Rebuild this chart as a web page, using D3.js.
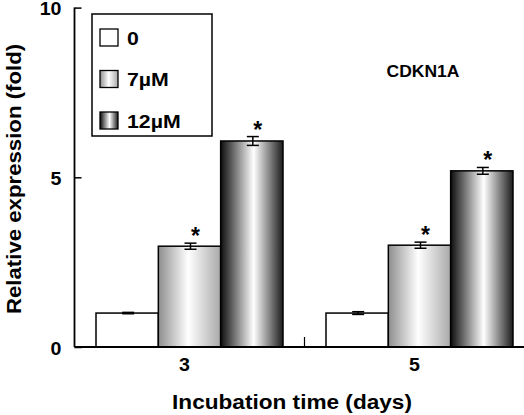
<!DOCTYPE html>
<html><head><meta charset="utf-8">
<script src="https://cdn.jsdelivr.net/npm/d3@7"></script>
<style>
html,body{margin:0;padding:0;background:#fff;}
svg{display:block;}
text{font-family:"Liberation Sans",Arial,sans-serif;font-weight:bold;fill:#000;}
</style></head>
<body>
<script>
// ---- data ----
const categories = ["3", "5"];
const seriesNames = ["0", "7\u00b5M", "12\u00b5M"];
const values0 = [1.0, 1.0];
const values7 = [2.97, 3.0];
const values12 = [6.07, 5.19];
const errors0 = [0.02, 0.04];
const errors7 = [0.09, 0.09];
const errors12 = [0.13, 0.1];
const significant0 = [false, false];
const significant7 = [true, true];
const significant12 = [true, true];
const yTicks = [0, 5, 10];
const chartLabel = "CDKN1A";
const xTitle = "Incubation time (days)";
const yTitle = "Relative expression (fold)";

const W = 524, H = 415;
const svg = d3.select("body").append("svg").attr("width", W).attr("height", H);

// widen text horizontally (reference glyphs are wider than Arial)
function stretch(sel, k) {
  sel.each(function () {
    const len = this.getComputedTextLength();
    d3.select(this).attr("textLength", len * k).attr("lengthAdjust", "spacingAndGlyphs");
  });
}

const defs = svg.append("defs");
function grad(id, stops) {
  const g = defs.append("linearGradient").attr("id", id).attr("x1", "0%").attr("x2", "100%").attr("y1", "0%").attr("y2", "0%");
  stops.forEach(s => g.append("stop").attr("offset", s[0]).attr("stop-color", s[1]));
}
grad("g7", [["0%", "#8e8e8e"], ["48%", "#ffffff"], ["100%", "#a9a9a9"]]);
grad("g12", [["0%", "#0d0d0d"], ["53%", "#ffffff"], ["100%", "#1c1c1c"]]);
const fills = ["#ffffff", "url(#g7)", "url(#g12)"];

const axisX = 74.5, baseY = 347, topY = 7.6;
const y = d3.scaleLinear().domain([0, 10]).range([baseY, topY]);
const x0 = d3.scaleBand().domain(categories).range([axisX, axisX + 460]).paddingInner(0).paddingOuter(0);
const groupPad = 21.5;
const x1 = d3.scaleBand().domain(seriesNames).range([0, x0.bandwidth() - 2 * groupPad]);

const series = seriesNames.map((name, i) => ({
  name, fill: fills[i],
  vals: [values0, values7, values12][i],
  errs: [errors0, errors7, errors12][i],
  sig: [significant0, significant7, significant12][i]
}));

const plot = svg.append("g");
series.forEach(s => {
  categories.forEach((c, ci) => {
    const bx = x0(c) + groupPad + x1(s.name);
    const bw = x1.bandwidth();
    const v = s.vals[ci], e = s.errs[ci];
    plot.append("rect").attr("x", bx).attr("y", y(v)).attr("width", bw).attr("height", y(0) - y(v))
      .attr("fill", s.fill).attr("stroke", "#000").attr("stroke-width", 1.5);
    const cx = bx + bw / 2 + 1;
    const eb = plot.append("g").attr("stroke", "#000").attr("stroke-width", 1.5);
    eb.append("line").attr("x1", cx).attr("x2", cx).attr("y1", y(v + e)).attr("y2", y(v - e));
    eb.append("line").attr("x1", cx - 6).attr("x2", cx + 6).attr("y1", y(v + e)).attr("y2", y(v + e));
    eb.append("line").attr("x1", cx - 6).attr("x2", cx + 6).attr("y1", y(v - e)).attr("y2", y(v - e));
    if (s.sig[ci]) {
      plot.append("text").attr("x", cx + 5).attr("y", y(v + e) + 1).attr("text-anchor", "middle")
        .style("font-size", "23px").text("*");
    }
  });
});

// y axis
const yAxis = d3.axisLeft(y).tickValues(yTicks).tickSize(-7).tickPadding(13).tickFormat(d3.format("d"));
const yg = svg.append("g").attr("transform", `translate(${axisX},0)`).call(yAxis);
yg.select(".domain").remove();
yg.selectAll(".tick line").attr("stroke", "#000").attr("stroke-width", 1.5);
const ytxt = yg.selectAll(".tick text").attr("dy", "0.42em").style("font-size", "17.5px").style("font-family", "'Liberation Sans',Arial,sans-serif").style("font-weight", "bold").attr("fill", "#000");
stretch(ytxt, 1.12);
svg.append("line").attr("x1", axisX).attr("x2", axisX).attr("y1", topY).attr("y2", baseY).attr("stroke", "#000").attr("stroke-width", 1.8);

// x axis
svg.append("line").attr("x1", axisX).attr("x2", W).attr("y1", baseY).attr("y2", baseY).attr("stroke", "#000").attr("stroke-width", 2.2);
categories.slice(1).forEach(c => {
  svg.append("line").attr("x1", x0(c)).attr("x2", x0(c)).attr("y1", baseY).attr("y2", baseY - 10).attr("stroke", "#000").attr("stroke-width", 1.2);
});
const xAxis = d3.axisBottom(x0).tickSize(0).tickPadding(0);
const xg = svg.append("g").attr("transform", `translate(-5,${baseY + 12})`).call(xAxis);
xg.select(".domain").remove();
const xtxt = xg.selectAll(".tick text").attr("dy", "0.71em").style("font-size", "17.5px").style("font-family", "'Liberation Sans',Arial,sans-serif").style("font-weight", "bold").attr("fill", "#000");
stretch(xtxt, 1.12);

// titles
const xt = svg.append("text").attr("x", 292).attr("y", 409).attr("text-anchor", "middle").style("font-size", "20px").text(xTitle);
stretch(xt, 1.13);
const yt = svg.append("text").attr("transform", "translate(21,179) rotate(-90)").attr("text-anchor", "middle").style("font-size", "20px").text(yTitle);
stretch(yt, 1.11);
const cl = svg.append("text").attr("x", 423).attr("y", 77).attr("text-anchor", "middle").style("font-size", "16.5px").text(chartLabel);
stretch(cl, 1.06);

// legend
const lg = svg.append("g");
lg.append("rect").attr("x", 92).attr("y", 14).attr("width", 120).attr("height", 122).attr("fill", "#fff").attr("stroke", "#000").attr("stroke-width", 1.5);
series.forEach((s, i) => {
  const yy = 29 + i * 41.5;
  lg.append("rect").attr("x", 100).attr("y", yy).attr("width", 18).attr("height", 17).attr("fill", s.fill).attr("stroke", "#000").attr("stroke-width", 1.3);
  const t = lg.append("text").attr("x", 127).attr("y", yy + 15.5).style("font-size", "19px").text(s.name);
  stretch(t, 1.12);
});
</script>
</body></html>
